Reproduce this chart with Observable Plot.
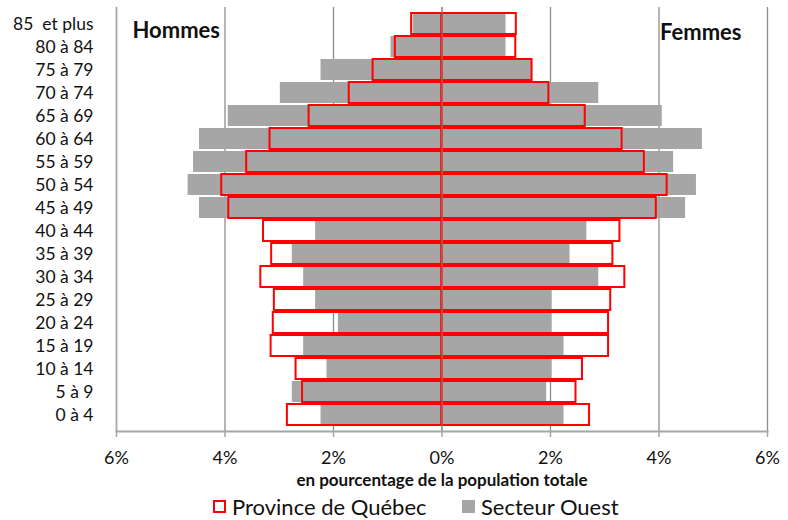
<!DOCTYPE html>
<html>
<head>
<meta charset="utf-8">
<script src="https://cdn.jsdelivr.net/npm/d3@7"></script>
<script src="https://cdn.jsdelivr.net/npm/@observablehq/plot@0.6"></script>
<style>
  html, body { margin: 0; padding: 0; background: #fff; }
  body { width: 788px; height: 520px; overflow: hidden; font-family: Lato, "Open Sans", sans-serif; color: #111; }
  #legend { position: relative; height: 30px; font-size: 22px; }
  .item { position: absolute; top: 1px; display: flex; align-items: center; height: 30px; }
  .sw { display: inline-block; box-sizing: border-box; width: 13px; height: 13px; margin-right: 6px; }
</style>
</head>
<body>
<div id="chart"></div>
<div id="legend"></div>
<script>
// Age groups, top to bottom
const ages = ["85  et plus","80 à 84","75 à 79","70 à 74","65 à 69","60 à 64","55 à 59","50 à 54","45 à 49","40 à 44","35 à 39","30 à 34","25 à 29","20 à 24","15 à 19","10 à 14","5 à 9","0 à 4"];

// Secteur Ouest (grey bars), % of total population
const ouestHommes = [0.53,0.94,2.23,2.98,3.94,4.47,4.58,4.68,4.47,2.33,2.76,2.55,2.33,1.91,2.55,2.12,2.76,2.23];
const ouestFemmes = [1.18,1.18,1.65,2.89,4.06,4.80,4.27,4.69,4.49,2.67,2.36,2.89,2.03,2.03,2.25,2.03,1.93,2.25];

// Province de Québec (red outlined bars)
const quebecHommes = [0.56,0.86,1.27,1.71,2.45,3.17,3.60,4.06,3.93,3.29,3.14,3.34,3.09,3.11,3.15,2.69,2.57,2.85];
const quebecFemmes = [1.37,1.36,1.66,1.97,2.64,3.32,3.73,4.15,3.95,3.28,3.15,3.37,3.11,3.07,3.07,2.59,2.47,2.72];

const xTicks = [-6,-4,-2,0,2,4,6];
const seriesNames = ["Province de Québec", "Secteur Ouest"];

function rows(h, f) {
  const out = [];
  ages.forEach((a, i) => {
    out.push({age: a, sexe: "Hommes", v: -h[i]});
    out.push({age: a, sexe: "Femmes", v: f[i]});
  });
  return out;
}
const ouest = rows(ouestHommes, ouestFemmes);
const quebec = rows(quebecHommes, quebecFemmes);

const chart = Plot.plot({
  width: 788,
  height: 490,
  marginLeft: 116,
  marginRight: 21,
  marginTop: 7,
  marginBottom: 59,
  style: {fontFamily: "Lato, 'Open Sans', sans-serif", color: "#111", background: "#fff"},
  x: {domain: [-6, 6]},
  y: {domain: ages, padding: 0.1, align: 0.5},
  marks: [
    Plot.gridX(xTicks, {stroke: "#8c8c8c", strokeOpacity: 1, strokeWidth: 1.3}),
    Plot.barX(ouest, {x: "v", y: "age", fill: "#a6a6a6"}),
    Plot.barX(quebec, {x: "v", y: "age", fill: "none", stroke: "#ff0000", strokeWidth: 2}),
    Plot.ruleX([0], {stroke: "#8c8c8c", strokeWidth: 1.2, strokeOpacity: 0.8}),
    Plot.frame({anchor: "bottom", stroke: "#a6a6a6", strokeWidth: 2}),
    Plot.frame({anchor: "left", stroke: "#a6a6a6", strokeWidth: 1.5}),
    Plot.axisX({ticks: xTicks, tickFormat: d => Math.abs(d) + "%", tickSize: 6, stroke: "#a6a6a6", strokeWidth: 1.5, tickPadding: 14, fontSize: 18, label: null}),
    Plot.axisY({tickSize: 0, tickPadding: 23, fontSize: 17.5, label: null, tickFormat: d => d.replace("  ", "\u00a0 ")}),
    Plot.text(["en pourcentage de la population totale"], {frameAnchor: "bottom", dy: 49, fontWeight: "bold", fontSize: 17, lineAnchor: "middle"}),
    Plot.text(["Hommes"], {frameAnchor: "top-left", dx: 16, dy: 23, textAnchor: "start", lineAnchor: "middle", fontWeight: "bold", fontSize: 22}),
    Plot.text(["Femmes"], {frameAnchor: "top-right", dx: -26, dy: 25, textAnchor: "end", lineAnchor: "middle", fontWeight: "bold", fontSize: 22})
  ]
});
document.getElementById("chart").appendChild(chart);

const legend = document.getElementById("legend");
const items = [
  {name: seriesNames[0], left: 213, style: "border:2px solid #ff0000;background:#fff;"},
  {name: seriesNames[1], left: 462, style: "background:#a6a6a6;"}
];
items.forEach(it => {
  const d = document.createElement("div");
  d.className = "item";
  d.style.left = it.left + "px";
  const s = document.createElement("span");
  s.className = "sw";
  s.setAttribute("style", it.style);
  d.appendChild(s);
  d.appendChild(document.createTextNode(it.name));
  legend.appendChild(d);
});
</script>
</body>
</html>
